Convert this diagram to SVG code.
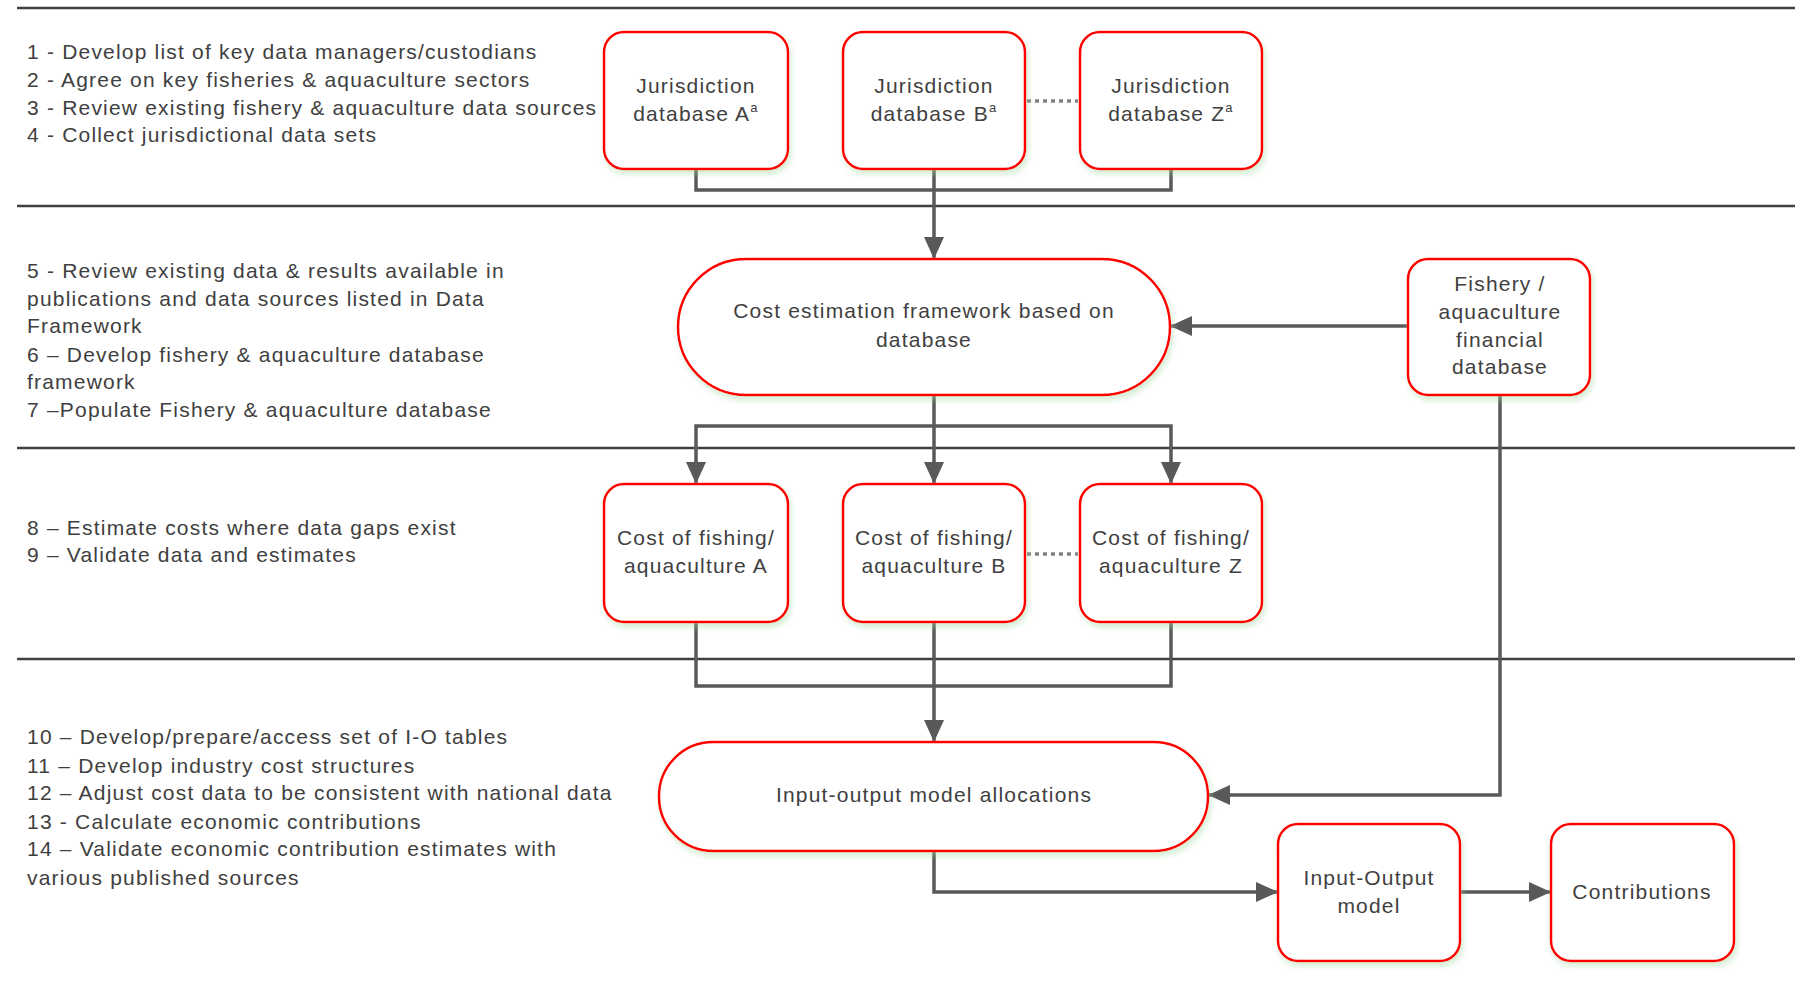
<svg xmlns="http://www.w3.org/2000/svg" width="1795" height="986" viewBox="0 0 1795 986">
<style>
.sep{stroke:#404040;stroke-width:2.5;fill:none}
.box{fill:#fff;stroke:#ff0000;stroke-width:2.5;filter:url(#sh)}
.t{font-family:"Liberation Sans",Arial,sans-serif;font-size:21px;fill:#404040;letter-spacing:1.2px}
.c{text-anchor:middle}
.con{stroke:#595959;stroke-width:3.5;fill:none}
.arr{marker-end:url(#ah)}
.dot{stroke:#808080;stroke-width:3.5;stroke-dasharray:4 4;fill:none}
</style>
<defs>
<filter id="sh" x="-10%" y="-10%" width="125%" height="125%">
<feDropShadow dx="2" dy="4" stdDeviation="3" flood-color="#9ed49e" flood-opacity="0.45"/>
</filter>
<marker id="ah" markerUnits="userSpaceOnUse" markerWidth="22" markerHeight="20" viewBox="0 0 22 20" refX="22" refY="10" orient="auto">
<path d="M0,0 L22,10 L0,20 z" fill="#595959"/>
</marker>
</defs>
<rect width="1795" height="986" fill="#fff"/>
<g id="separators">
<line class="sep" x1="17" y1="8" x2="1795" y2="8"/>
<line class="sep" x1="17" y1="206" x2="1795" y2="206"/>
<line class="sep" x1="17" y1="448" x2="1795" y2="448"/>
<line class="sep" x1="17" y1="659" x2="1795" y2="659"/>
</g>
<g id="steps" class="t">
<text x="27" y="59">1 - Develop list of key data managers/custodians</text>
<text x="27" y="87">2 - Agree on key fisheries &amp; aquaculture sectors</text>
<text x="27" y="115">3 - Review existing fishery &amp; aquaculture data sources</text>
<text x="27" y="142">4 - Collect jurisdictional data sets</text>
<text x="27" y="278">5 - Review existing data &amp; results available in</text>
<text x="27" y="306">publications and data sources listed in Data</text>
<text x="27" y="333">Framework</text>
<text x="27" y="362">6 – Develop fishery &amp; aquaculture database</text>
<text x="27" y="389">framework</text>
<text x="27" y="417">7 –Populate Fishery &amp; aquaculture database</text>
<text x="27" y="535">8 – Estimate costs where data gaps exist</text>
<text x="27" y="562">9 – Validate data and estimates</text>
<text x="27" y="744">10 – Develop/prepare/access set of I-O tables</text>
<text x="27" y="773">11 – Develop industry cost structures</text>
<text x="27" y="800">12 – Adjust cost data to be consistent with national data</text>
<text x="27" y="829">13 - Calculate economic contributions</text>
<text x="27" y="856">14 – Validate economic contribution estimates with</text>
<text x="27" y="885">various published sources</text>
</g>
<g id="connectors">
<path class="con" d="M696,169 V190 H1171 V169"/>
<path class="con arr" d="M934,169 V259"/>
<path class="con arr" d="M1408,326 H1170"/>
<path class="con arr" d="M934,395 V484"/>
<path class="con arr" d="M934,426 H696 V484"/>
<path class="con arr" d="M934,426 H1171 V484"/>
<path class="con" d="M696,622 V686 H1171 V622"/>
<path class="con arr" d="M934,622 V742"/>
<path class="con arr" d="M1500,395 V795 H1208"/>
<path class="con arr" d="M934,851 V892 H1278"/>
<path class="con arr" d="M1460,892 H1551"/>
<path class="dot" d="M1027,101 H1078"/>
<path class="dot" d="M1027,554 H1078"/>
</g>
<g id="jurA">
<rect class="box" x="604" y="32" width="184" height="137" rx="20"/>
<text class="t c" x="696" y="93">Jurisdiction</text>
<text class="t c" x="696" y="121">database A<tspan font-size="13" dy="-9">a</tspan></text>
</g>
<g id="jurB">
<rect class="box" x="843" y="32" width="182" height="137" rx="20"/>
<text class="t c" x="934" y="93">Jurisdiction</text>
<text class="t c" x="934" y="121">database B<tspan font-size="13" dy="-9">a</tspan></text>
</g>
<g id="jurZ">
<rect class="box" x="1080" y="32" width="182" height="137" rx="20"/>
<text class="t c" x="1171" y="93">Jurisdiction</text>
<text class="t c" x="1171" y="121">database Z<tspan font-size="13" dy="-9">a</tspan></text>
</g>
<g id="costFramework">
<rect class="box" x="678" y="259" width="492" height="136" rx="68"/>
<text class="t c" x="924" y="318">Cost estimation framework based on</text>
<text class="t c" x="924" y="347">database</text>
</g>
<g id="financialDb">
<rect class="box" x="1408" y="259" width="182" height="136" rx="20"/>
<text class="t c" x="1500" y="291">Fishery /</text>
<text class="t c" x="1500" y="319">aquaculture</text>
<text class="t c" x="1500" y="347">financial</text>
<text class="t c" x="1500" y="374">database</text>
</g>
<g id="costA">
<rect class="box" x="604" y="484" width="184" height="138" rx="20"/>
<text class="t c" x="696" y="545">Cost of fishing/</text>
<text class="t c" x="696" y="573">aquaculture A</text>
</g>
<g id="costB">
<rect class="box" x="843" y="484" width="182" height="138" rx="20"/>
<text class="t c" x="934" y="545">Cost of fishing/</text>
<text class="t c" x="934" y="573">aquaculture B</text>
</g>
<g id="costZ">
<rect class="box" x="1080" y="484" width="182" height="138" rx="20"/>
<text class="t c" x="1171" y="545">Cost of fishing/</text>
<text class="t c" x="1171" y="573">aquaculture Z</text>
</g>
<g id="ioAlloc">
<rect class="box" x="659" y="742" width="549" height="109" rx="54"/>
<text class="t c" x="934" y="802">Input-output model allocations</text>
</g>
<g id="ioModel">
<rect class="box" x="1278" y="824" width="182" height="137" rx="20"/>
<text class="t c" x="1369" y="885">Input-Output</text>
<text class="t c" x="1369" y="913">model</text>
</g>
<g id="contributions">
<rect class="box" x="1551" y="824" width="183" height="137" rx="20"/>
<text class="t c" x="1642" y="899">Contributions</text>
</g>
</svg>
